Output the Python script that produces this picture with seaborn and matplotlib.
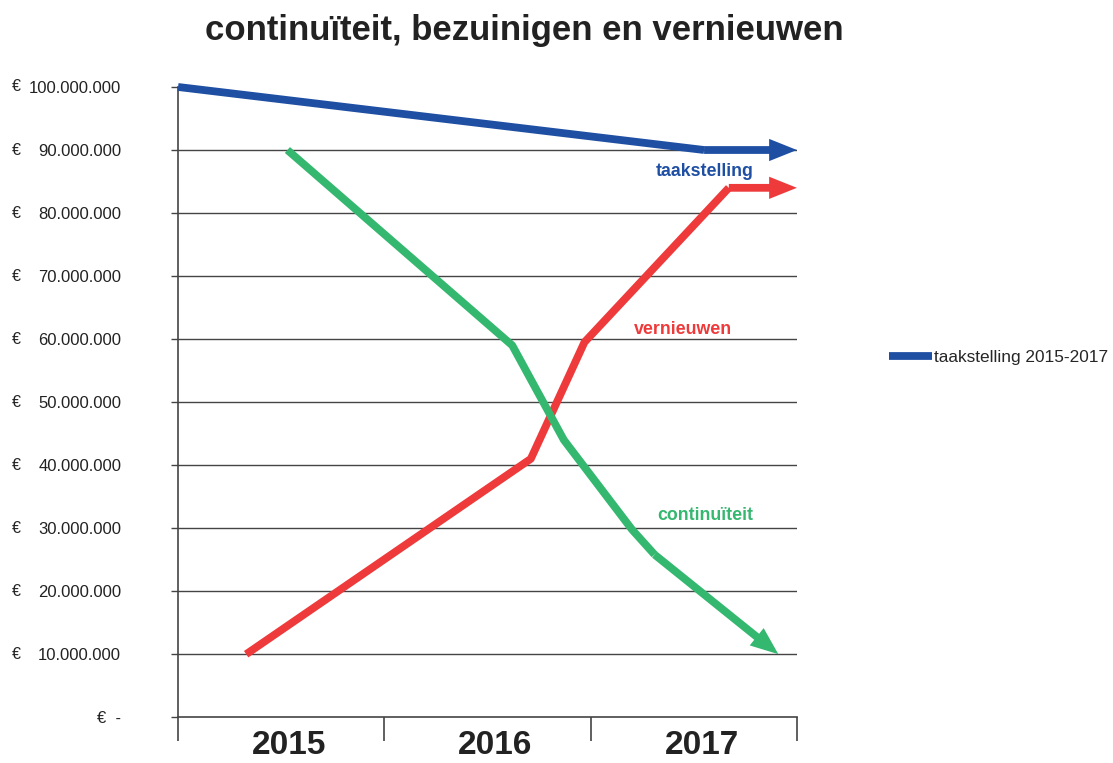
import numpy as np
import pandas as pd
import matplotlib
matplotlib.use("Agg")
import matplotlib.pyplot as plt
import matplotlib.transforms as mtransforms
import seaborn as sns

# data (x in years from start of 2015, y in euro)
years = ["2015", "2016", "2017"]

taak_x = [0.0, 2.55, 3.0]
taak_y = [100e6, 90e6, 90e6]

vern_x = [0.33, 1.71, 1.97, 2.67, 3.0]
vern_y = [10e6, 41e6, 59.5e6, 84e6, 84e6]

cont_x = [0.53, 1.62, 1.87, 2.2, 2.31, 2.91]
cont_y = [90e6, 59e6, 44e6, 29.8e6, 25.8e6, 10e6]

ytick_vals = [0, 10e6, 20e6, 30e6, 40e6, 50e6, 60e6, 70e6, 80e6, 90e6, 100e6]

BLUE = "#1f4fa3"
RED = "#ee3a3a"
GREEN = "#34b76f"

sns.set_style("white")
plt.rcParams['font.family'] = ['Liberation Sans', 'DejaVu Sans']

fig = plt.figure(figsize=(11.13, 7.63), dpi=100)
ax = fig.add_axes([0.160, 0.060, 0.556, 0.826])

series = [
    (taak_x, taak_y, BLUE, "taakstelling 2015-2017"),
    (vern_x, vern_y, RED, None),
    (cont_x, cont_y, GREEN, None),
]

for xs, ys, col, lab in series:
    df = pd.DataFrame({"x": xs[:-1], "y": ys[:-1]})
    sns.lineplot(data=df, x="x", y="y", ax=ax, color=col, lw=5.6,
                 estimator=None, sort=False, label=lab, legend=False,
                 clip_on=False, zorder=3)
    ax.lines[-1].set_solid_joinstyle("round")
    ax.lines[-1].set_solid_capstyle("butt")
    ax.annotate("", xy=(xs[-1], ys[-1]), xytext=(xs[-2], ys[-2]),
                arrowprops=dict(arrowstyle="simple,tail_width=0.56,head_width=1.6,head_length=2.0",
                                mutation_scale=10, fc=col, ec="none",
                                shrinkA=0, shrinkB=0),
                annotation_clip=False, zorder=3)

ax.set_xlim(0, 3)
ax.set_ylim(0, 100e6)

# grid (no line at the top value)
for v in ytick_vals[1:-1]:
    ax.axhline(v, color="#444444", lw=1.0, zorder=1)

for s in ["top", "right"]:
    ax.spines[s].set_visible(False)
for s in ["left", "bottom"]:
    ax.spines[s].set_color("#444444")
    ax.spines[s].set_linewidth(1.2)

ax.set_yticks(ytick_vals)
labels = ["€  -"] + ["{:,.0f}".format(v).replace(",", ".") for v in ytick_vals[1:]]
ax.set_yticklabels(labels, fontsize=12, color="#222222")
ax.tick_params(axis="y", direction="out", length=5, width=1, color="#444444",
               pad=36, left=True)

trans = mtransforms.blended_transform_factory(fig.transFigure, ax.transData)
for v in ytick_vals[1:]:
    ax.text(0.011, v, "€", transform=trans, ha="left", va="center",
            fontsize=11.5, color="#222222")

ax.set_xticks([0, 1, 2, 3])
ax.set_xticklabels([])
ax.set_xticks([0.5, 1.5, 2.5], minor=True)
ax.set_xticklabels(years, minor=True, fontsize=24, fontweight="bold", color="#222222")
ax.tick_params(axis="x", which="major", direction="out", length=17, width=1.2,
               color="#444444", bottom=True)
ax.tick_params(axis="x", which="minor", length=0, pad=9)
shift = mtransforms.ScaledTranslation(8 / 100, 0, fig.dpi_scale_trans)
for t in ax.get_xticklabels(minor=True):
    t.set_transform(t.get_transform() + shift)
ax.set_xlabel("")
ax.set_ylabel("")

ax.text(2.555, 86.6e6, "taakstelling", color=BLUE, fontsize=12.8,
        fontweight="bold", ha="center", va="center")
ax.text(2.45, 61.5e6, "vernieuwen", color=RED, fontsize=12.8,
        fontweight="bold", ha="center", va="center")
ax.text(2.555, 32.0e6, "continuïteit", color=GREEN, fontsize=12.8,
        fontweight="bold", ha="center", va="center")

fig.suptitle("continuïteit, bezuinigen en vernieuwen", x=0.471, y=0.96,
             fontsize=25, fontweight="bold", color="#222222", va="center")

handles, labs = ax.get_legend_handles_labels()
fig.legend(handles, labs, loc="center left", bbox_to_anchor=(0.799, 0.532),
           frameon=False, fontsize=12.4, handlelength=2.5, handletextpad=0.1,
           borderpad=0, borderaxespad=0)

fig.savefig("out.png", dpi=100)
